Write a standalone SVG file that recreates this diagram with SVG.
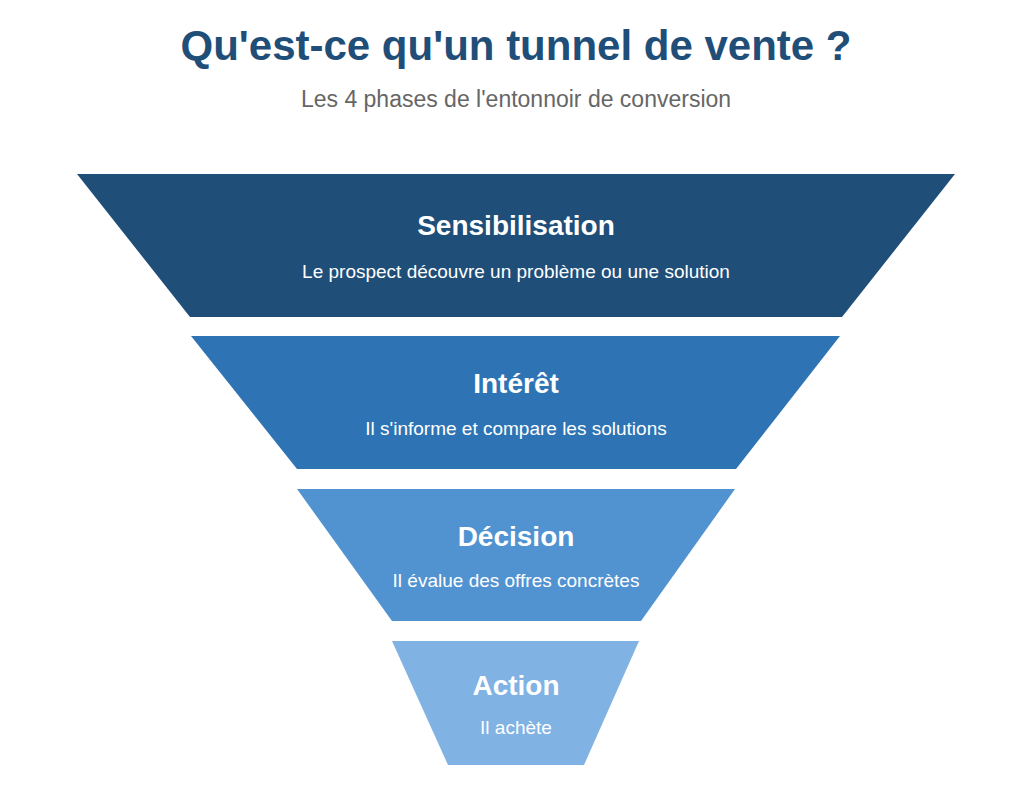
<svg xmlns="http://www.w3.org/2000/svg" width="1024" height="795" viewBox="0 0 1024 795">
<style>
text{font-family:"Liberation Sans",Arial,sans-serif;text-anchor:middle}
.t{font-size:28px;font-weight:bold;fill:#fff}
.s{font-size:19px;fill:#fff}
</style>
<rect width="1024" height="795" fill="#fff"/>
<text x="516" y="60" style="font-size:42px;font-weight:bold;fill:#1f4e79">Qu'est-ce qu'un tunnel de vente ?</text>
<text x="516" y="107" style="font-size:23px;fill:#666">Les 4 phases de l'entonnoir de conversion</text>
<g id="sensibilisation"><polygon points="77,174 955,174 842,317 190,317" fill="#1f4e79"/>
<text class="t" x="516" y="235">Sensibilisation</text><text class="s" x="516" y="278">Le prospect découvre un problème ou une solution</text></g>
<g id="interet"><polygon points="191,336 840,336 736,469 297,469" fill="#2e74b5"/>
<text class="t" x="516" y="393">Intérêt</text><text class="s" x="516" y="435">Il s'informe et compare les solutions</text></g>
<g id="decision"><polygon points="297,489 735,489 641,621 392,621" fill="#5193d1"/>
<text class="t" x="516" y="546">Décision</text><text class="s" x="516" y="587">Il évalue des offres concrètes</text></g>
<g id="action"><polygon points="392,641 639,641 584,765 448,765" fill="#80b2e3"/>
<text class="t" x="516" y="695">Action</text><text class="s" x="516" y="734">Il achète</text></g>
<g id="connectors"/>
</svg>
